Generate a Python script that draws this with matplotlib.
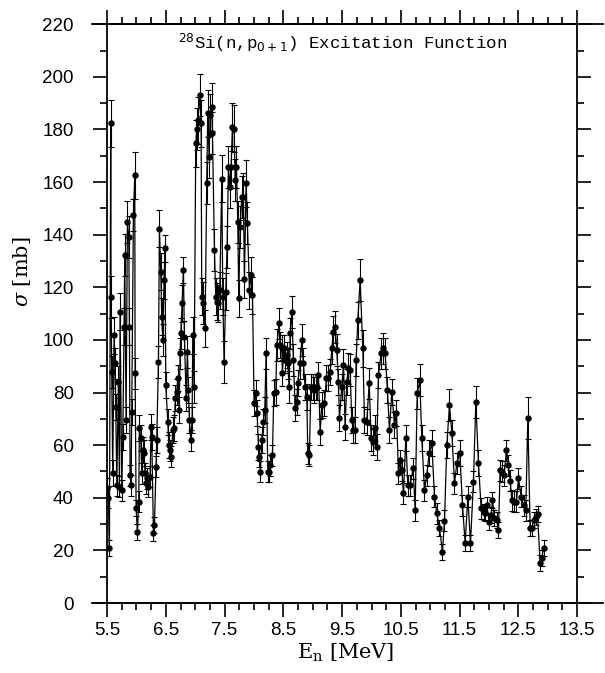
"""
28Si(n,p0+1) excitation function: cross section vs neutron energy,
with error bars, drawn to look like the scanned figure.
"""

import numpy as np
import matplotlib
matplotlib.use("Agg")
import matplotlib.pyplot as plt
from matplotlib.ticker import MultipleLocator

plt.rcParams['mathtext.fontset'] = 'custom'
plt.rcParams['mathtext.rm'] = 'DejaVu Sans'
plt.rcParams['mathtext.it'] = 'DejaVu Serif:italic'
plt.rcParams['mathtext.bf'] = 'DejaVu Sans:bold'

# --- data, split in energy blocks ---
# 5.5 - 7.05 MeV
energy_a = [5.506, 5.523, 5.540, 5.562, 5.568, 5.579, 5.596, 5.619, 5.636, 5.648,
            5.665, 5.693, 5.710, 5.721, 5.750, 5.767, 5.789, 5.801, 5.823, 5.846,
            5.869, 5.880, 5.891, 5.909, 5.920, 5.948, 5.971, 5.977, 5.994, 6.016,
            6.039, 6.050, 6.073, 6.090, 6.107, 6.130, 6.147, 6.164, 6.186, 6.203,
            6.232, 6.249, 6.260, 6.289, 6.306, 6.334, 6.345, 6.374, 6.391, 6.413,
            6.430, 6.448, 6.470, 6.487, 6.499, 6.533, 6.550, 6.572, 6.595, 6.618,
            6.640, 6.663, 6.686, 6.703, 6.726, 6.743, 6.754, 6.777, 6.799, 6.816,
            6.845, 6.867, 6.884, 6.901, 6.924, 6.947, 6.958, 6.981, 7.009, 7.026,
            7.043]
sigma_a = [43.6, 40.0, 20.8, 182.3, 116.4, 87.9, 49.3, 101.8, 91.1, 74.6,
           44.8, 84.1, 44.2, 110.7, 42.9, 63.2, 105.0, 132.2, 69.5, 144.9,
           139.2, 105.0, 48.6, 44.8, 72.7, 147.4, 162.6, 87.3, 36.0, 27.1,
           38.5, 66.4, 62.6, 49.3, 58.1, 56.9, 49.3, 45.5, 47.4, 44.2,
           48.0, 67.0, 63.2, 26.5, 29.6, 51.8, 61.9, 91.7, 142.3, 125.9,
           108.8, 99.9, 122.7, 134.8, 82.8, 68.9, 60.0, 58.1, 55.6, 65.7,
           66.4, 77.8, 80.3, 85.4, 73.3, 94.9, 102.5, 113.9, 126.5, 101.2,
           77.8, 95.5, 80.9, 69.5, 61.9, 69.5, 101.8, 82.2, 174.7, 180.3,
           183.5]
err_a = [4, 4, 3, 9, 8, 6, 5, 7, 6, 5,
         4, 6, 4, 7, 4, 5, 7, 8, 5, 8,
         8, 7, 4, 4, 5, 6, 9, 6, 3, 3,
         4, 5, 5, 4, 5, 5, 4, 4, 4, 4,
         4, 5, 5, 3, 3, 4, 5, 6, 7, 7,
         7, 6, 7, 5, 5, 5, 5, 4, 4, 5,
         5, 5, 5, 5, 5, 6, 6, 7, 5, 6,
         5, 6, 5, 5, 4, 5, 7, 6, 9, 8,
         9]

# 7.05 - 8.6 MeV
energy_b = [7.083, 7.100, 7.111, 7.140, 7.168, 7.196, 7.213, 7.236, 7.253, 7.282,
            7.293, 7.327, 7.350, 7.372, 7.395, 7.418, 7.452, 7.469, 7.491, 7.520,
            7.543, 7.565, 7.588, 7.611, 7.633, 7.662, 7.679, 7.701, 7.724, 7.741,
            7.764, 7.792, 7.820, 7.837, 7.866, 7.888, 7.923, 7.945, 7.974, 8.002,
            8.030, 8.053, 8.076, 8.093, 8.110, 8.133, 8.161, 8.184, 8.206, 8.235,
            8.257, 8.280, 8.314, 8.337, 8.371, 8.388, 8.428, 8.445, 8.473, 8.484,
            8.507, 8.530, 8.564]
sigma_b = [193.0, 182.3, 116.4, 113.9, 104.4, 159.5, 186.1, 169.6, 185.4, 188.6,
           178.5, 134.1, 116.4, 114.5, 113.9, 118.9, 161.3, 116.4, 91.7, 118.3,
           135.4, 165.8, 158.2, 165.8, 181.0, 180.3, 160.7, 165.8, 144.9, 115.8,
           143.0, 154.4, 154.4, 123.0, 159.5, 144.3, 118.9, 124.6, 117.0, 75.9,
           79.7, 72.1, 59.4, 55.6, 49.9, 61.9, 68.9, 73.3, 94.9, 49.9,
           49.9, 52.4, 56.2, 79.7, 80.3, 98.0, 106.3, 98.0, 96.8, 87.3,
           96.8, 92.3, 94.2]
err_b = [8, 9, 7, 8, 7, 8, 9, 8, 8, 9,
         8, 8, 7, 7, 7, 7, 9, 7, 8, 7,
         8, 8, 8, 8, 9, 9, 8, 8, 8, 7,
         8, 8, 9, 7, 9, 8, 7, 7, 7, 5,
         5, 5, 5, 4, 4, 5, 5, 5, 6, 4,
         4, 4, 4, 5, 5, 6, 6, 5, 5, 5,
         5, 5, 5]

# 8.6 - 10.3 MeV
energy_c = [8.575, 8.598, 8.615, 8.643, 8.671, 8.700, 8.728, 8.745, 8.785, 8.813,
            8.842, 8.870, 8.899, 8.916, 8.944, 8.967, 9.001, 9.029, 9.052, 9.080,
            9.097, 9.126, 9.154, 9.199, 9.233, 9.267, 9.296, 9.324, 9.352, 9.381,
            9.409, 9.437, 9.454, 9.494, 9.523, 9.551, 9.579, 9.607, 9.636, 9.664,
            9.693, 9.721, 9.738, 9.767, 9.806, 9.852, 9.880, 9.920, 9.960, 9.994,
            10.033, 10.062, 10.090, 10.118, 10.164, 10.192, 10.232, 10.271, 10.306]
sigma_c = [91.1, 82.2, 102.5, 110.7, 92.3, 74.0, 76.5, 83.5, 91.1, 99.9,
           91.1, 82.2, 78.4, 56.9, 56.2, 82.2, 82.2, 80.9, 82.2, 82.2,
           86.6, 65.1, 75.2, 75.9, 85.4, 85.4, 87.9, 96.8, 103.1, 105.0,
           96.1, 84.1, 70.2, 82.2, 90.4, 67.0, 84.1, 89.2, 88.5, 69.5,
           65.7, 65.7, 92.3, 107.5, 122.7, 96.8, 69.5, 68.9, 83.5, 62.6,
           61.3, 66.4, 59.4, 86.6, 94.9, 96.8, 94.9, 80.9, 65.7]
err_c = [6, 6, 6, 6, 6, 5, 5, 5, 6, 6,
         6, 5, 5, 4, 4, 5, 5, 5, 5, 5,
         5, 5, 5, 5, 5, 5, 5, 6, 6, 6,
         6, 5, 5, 5, 6, 5, 5, 6, 6, 5,
         5, 5, 6, 7, 8, 7, 5, 5, 6, 5,
         5, 5, 5, 5, 6, 6, 6, 5, 5]

# 10.3 - 11.8 MeV
energy_d = [10.345, 10.391, 10.425, 10.459, 10.487, 10.516, 10.544, 10.584, 10.618, 10.657,
            10.709, 10.743, 10.777, 10.822, 10.856, 10.901, 10.941, 10.981, 11.026, 11.072,
            11.111, 11.157, 11.208, 11.242, 11.282, 11.327, 11.367, 11.412, 11.452, 11.503,
            11.548, 11.594, 11.639, 11.684, 11.735, 11.775]
sigma_d = [80.3, 67.6, 72.1, 49.3, 54.3, 50.5, 41.7, 62.6, 44.8, 44.8,
           51.2, 35.3, 79.7, 84.7, 62.6, 42.9, 48.6, 56.9, 60.7, 40.4,
           34.1, 28.4, 19.5, 31.3, 60.0, 75.2, 64.7, 45.5, 53.1, 57.1,
           37.2, 22.7, 40.4, 22.7, 46.1, 76.5]
err_d = [5, 5, 5, 4, 4, 4, 4, 5, 4, 4,
         4, 4, 6, 6, 5, 4, 4, 5, 5, 4,
         4, 3, 3, 4, 5, 6, 5, 4, 4, 5,
         4, 3, 4, 3, 4, 6]

# 11.8 - 13.0 MeV
energy_e = [11.820, 11.866, 11.906, 11.934, 11.962, 12.002, 12.036, 12.059, 12.093, 12.133,
            12.161, 12.189, 12.229, 12.257, 12.297, 12.331, 12.360, 12.388, 12.433, 12.467,
            12.501, 12.547, 12.587, 12.626, 12.660, 12.700, 12.728, 12.757, 12.796, 12.825,
            12.870, 12.898, 12.927]
sigma_e = [53.1, 36.0, 34.7, 34.1, 37.2, 30.9, 33.4, 39.1, 32.2, 31.5,
           27.7, 50.5, 49.9, 48.6, 58.1, 52.4, 46.5, 39.1, 38.5, 38.5,
           47.4, 40.4, 37.2, 35.3, 70.2, 28.4, 28.4, 31.5, 32.8, 33.8,
           15.1, 17.0, 20.8]
err_e = [5, 4, 3, 3, 3, 3, 3, 3, 3, 3,
         3, 4, 4, 4, 4, 4, 4, 4, 4, 4,
         4, 4, 4, 4, 8, 3, 3, 3, 3, 3,
         3, 3, 3]

x_ticks = [5.5, 6.5, 7.5, 8.5, 9.5, 10.5, 11.5, 12.5, 13.5]
y_ticks = [0, 20, 40, 60, 80, 100, 120, 140, 160, 180, 200, 220]


def main():
    energy = np.concatenate([energy_a, energy_b, energy_c, energy_d, energy_e])
    sigma = np.concatenate([sigma_a, sigma_b, sigma_c, sigma_d, sigma_e])
    err = np.concatenate([err_a, err_b, err_c, err_d, err_e])

    fig = plt.figure(figsize=(6.05, 6.73), dpi=100)
    ax = fig.add_axes([0.177, 0.104, 0.777, 0.860])

    ax.errorbar(energy, sigma, yerr=err, fmt='-o', color='black',
                ms=3.6, lw=0.9, elinewidth=0.8, capsize=2.0, capthick=0.8)

    ax.set_xlim(5.5, 13.5)
    ax.set_ylim(0, 220)
    ax.set_xticks(x_ticks)
    ax.set_xticklabels([f'{t:g}' for t in x_ticks])
    ax.set_yticks(y_ticks)
    ax.xaxis.set_minor_locator(MultipleLocator(0.25))
    ax.yaxis.set_minor_locator(MultipleLocator(10))

    ax.tick_params(which='both', direction='out', top=True, right=True,
                   width=1.2, colors='black')
    ax.tick_params(which='major', length=10)
    ax.tick_params(which='minor', length=5)
    ax.tick_params(axis='y', which='major', pad=14)
    ax.tick_params(axis='x', which='major', pad=4)
    for lab in ax.get_xticklabels() + ax.get_yticklabels():
        lab.set_family('Liberation Sans')
        lab.set_fontsize(13.5)

    for sp in ax.spines.values():
        sp.set_linewidth(1.3)

    # horizontal frame lines run past the box, as in the original
    for yy in (0, 1):
        ax.plot([-0.032, 1.055], [yy, yy], transform=ax.transAxes,
                color='black', lw=1.3, clip_on=False)

    ax.text(0.5, 0.968, r'$^{28}$Si(n,p$_{0+1}$) Excitation Function',
            transform=ax.transAxes, ha='center', va='center',
            family='Liberation Mono', fontsize=12.5)

    ax.set_xlabel(r'E$_{\mathregular{n}}$ [MeV]', family='DejaVu Serif', fontsize=15)
    ax.xaxis.set_label_coords(0.508, -0.066)
    ax.set_ylabel(r'$\sigma$ [mb]', family='DejaVu Serif', fontsize=15)
    ax.yaxis.set_label_coords(-0.157, 0.572)

    fig.savefig('out.png', dpi=100)


if __name__ == "__main__":
    main()
